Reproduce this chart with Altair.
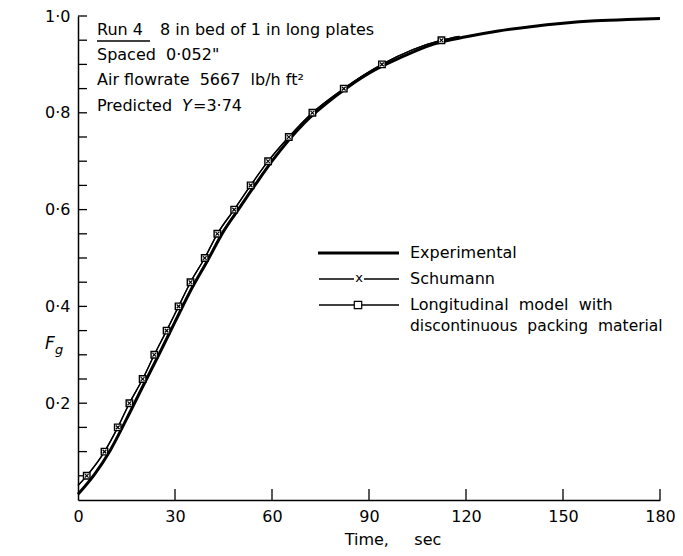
import altair as alt
import pandas as pd

FONT = "DejaVu Sans"
NB = "\u00a0"

# ---- data ----
exp_t = [0, 5, 10, 15, 20, 25, 30, 35, 40, 45, 50, 55, 60, 70, 80, 90, 100, 110, 120, 130, 140, 150, 160, 170, 180]
exp_f = [0.012, 0.052, 0.103, 0.167, 0.234, 0.300, 0.368, 0.435, 0.494, 0.555, 0.604, 0.653, 0.700, 0.779, 0.836,
         0.882, 0.915, 0.942, 0.957, 0.969, 0.978, 0.985, 0.990, 0.993, 0.995]

schumann_t = [0, 2.7, 8.2, 12.3, 15.9, 20.0, 23.6, 27.4, 31.1, 34.8, 39.2, 43.1, 48.3, 53.4, 58.8, 65.2, 72.5,
              82.2, 94.0, 112.4, 118.0]
schumann_f = [0.03, 0.05, 0.10, 0.15, 0.20, 0.25, 0.30, 0.35, 0.40, 0.45, 0.50, 0.55, 0.60, 0.65, 0.70, 0.75,
              0.80, 0.85, 0.90, 0.95, 0.958]

long_t = [0, 2.7, 8.2, 12.3, 15.9, 20.0, 23.6, 27.4, 31.1, 34.8, 39.2, 43.1, 48.3, 53.4, 58.8, 65.2, 72.5,
          82.2, 94.0, 112.4, 118.0]
long_f = [0.03, 0.05, 0.10, 0.15, 0.20, 0.25, 0.30, 0.35, 0.40, 0.45, 0.50, 0.55, 0.60, 0.65, 0.70, 0.75,
          0.80, 0.85, 0.90, 0.95, 0.958]

marker_t = [2.7, 8.2, 12.3, 15.9, 20.0, 23.6, 27.4, 31.1, 34.8, 39.2, 43.1, 48.3, 53.4, 58.8, 65.2, 72.5,
            82.2, 94.0, 112.4]
marker_f = [0.05, 0.10, 0.15, 0.20, 0.25, 0.30, 0.35, 0.40, 0.45, 0.50, 0.55, 0.60, 0.65, 0.70, 0.75,
            0.80, 0.85, 0.90, 0.95]

x_ticks = [0, 30, 60, 90, 120, 150, 180]
x_minor = [30, 60, 90, 120, 150, 180]
y_labels = [0.2, 0.4, 0.6, 0.8, 1.0]
y_ticks = [0.05, 0.10, 0.15, 0.20, 0.25, 0.30, 0.35, 0.40, 0.45, 0.50, 0.55, 0.60, 0.65, 0.70, 0.75,
           0.80, 0.85, 0.90, 0.95, 1.00]

W, H = 582, 484

X = alt.X("t:Q", scale=alt.Scale(domain=[0, 180], nice=False, zero=True),
          axis=alt.Axis(values=x_ticks, ticks=False, grid=False, title=None, domainColor="black",
                        domainWidth=1.5, labelFont=FONT, labelFontSize=16, labelColor="black",
                        labelPadding=8, labelFlush=False))
Y = alt.Y("f:Q", scale=alt.Scale(domain=[0, 1], nice=False, zero=True),
          axis=alt.Axis(values=y_labels, ticks=False, grid=False, title=None, domainColor="black",
                        domainWidth=1.5, labelFont=FONT, labelFontSize=16, labelColor="black",
                        labelPadding=8, labelFlush=False,
                        labelExpr="replace(format(datum.value, '.1f'), '.', '·')"))

exp_df = pd.DataFrame({"t": exp_t, "f": exp_f})
sch_df = pd.DataFrame({"t": schumann_t, "f": schumann_f})
lon_df = pd.DataFrame({"t": long_t, "f": long_f})
mk_df = pd.DataFrame({"t": marker_t, "f": marker_f})
one = pd.DataFrame({"a": [0]})

exp_line = alt.Chart(exp_df).mark_line(color="black", strokeWidth=3, interpolate="monotone").encode(x=X, y=Y)
sch_line = alt.Chart(sch_df).mark_line(color="black", strokeWidth=1.3, interpolate="monotone").encode(x=X, y=Y)
lon_line = alt.Chart(lon_df).mark_line(color="black", strokeWidth=1.3, interpolate="monotone").encode(x=X, y=Y)

XSHAPE = "M-1,-1L1,1M-1,1L1,-1"
sq_pts = alt.Chart(mk_df).mark_point(shape="square", size=42, filled=True, fill="white", stroke="black",
                                      strokeWidth=1.4, opacity=1).encode(x=X, y=Y)
x_pts = alt.Chart(mk_df).mark_point(shape=XSHAPE, size=14, filled=False, stroke="black",
                                     strokeWidth=1.2, opacity=1).encode(x=X, y=Y)

ytick_layer = alt.Chart(pd.DataFrame({"f": y_ticks})).mark_rule(color="black", strokeWidth=1.3).encode(
    y=Y, x=alt.value(0), x2=alt.value(9))
xtick_layer = alt.Chart(pd.DataFrame({"t": x_minor})).mark_rule(color="black", strokeWidth=1.3).encode(
    x=X, y=alt.value(H), y2=alt.value(H - 11))


def txt(s, x, y, size=16, style="normal", align="left"):
    return alt.Chart(one).mark_text(text=s, align=align, baseline="middle", font=FONT, fontSize=size,
                                    fontStyle=style, color="black").encode(x=alt.value(x), y=alt.value(y))


def seg(x1, x2, y, w=1.3):
    return alt.Chart(one).mark_rule(color="black", strokeWidth=w).encode(
        x=alt.value(x1), x2=alt.value(x2), y=alt.value(y))


def sp(s):
    return s.replace("  ", NB + NB)


# annotation block
notes = [
    txt("Run 4", 19, 14),
    seg(19, 72, 25, 1.3),
    txt(sp("8 in bed of 1 in long plates"), 82, 14),
    txt(sp("Spaced  0·052\""), 19, 39),
    txt(sp("Air flowrate  5667  lb/h ft²"), 19, 64),
    txt("Predicted", 19, 90),
    txt("Y", 104, 90, style="italic"),
    txt("=3·74", 115, 90),
]

# legend
legend = [
    seg(240, 321, 237, 3),
    txt("Experimental", 332, 237),
    seg(241, 276, 263), seg(286, 321, 263),
    txt("x", 281, 262, size=13, align="center"),
    txt("Schumann", 332, 263),
    seg(241, 321, 289),
    alt.Chart(one).mark_point(shape="square", size=55, filled=True, fill="white", stroke="black",
                              strokeWidth=1.2, opacity=1).encode(x=alt.value(280), y=alt.value(289)),
    txt(sp("Longitudinal  model  with"), 332, 289),
    txt(sp("discontinuous  packing  material"), 332, 310, size=15.5),
]

axis_titles = [
    txt("Time," + NB * 5 + "sec", 315, 524, align="center"),
    txt("F", -33, 328, size=17, style="italic"),
    txt("g", -23, 334, size=13, style="italic"),
]

chart = alt.layer(
    ytick_layer, xtick_layer, exp_line, sch_line, lon_line, sq_pts, x_pts,
    *notes, *legend, *axis_titles
).properties(
    width=W, height=H,
    autosize=alt.AutoSizeParams(type="none"),
    padding={"left": 70, "top": 8, "right": 15, "bottom": 48},
).configure_view(stroke=None)

chart.save("out.html", embed_options={"renderer": "svg", "actions": False})
